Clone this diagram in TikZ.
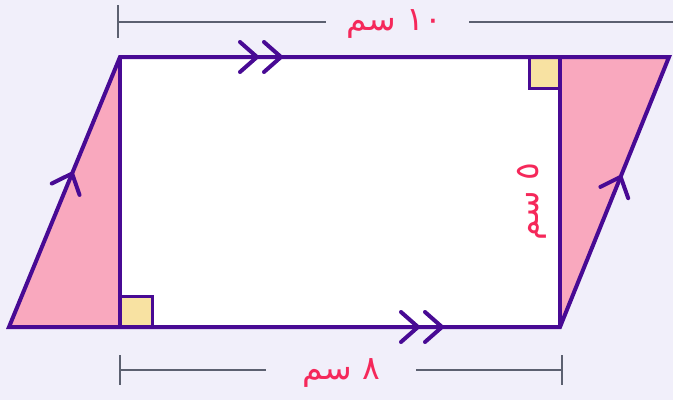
\documentclass[tikz,border=0pt]{standalone}
\usepackage{fontspec}
\newfontfamily\arabicfont[Script=Arabic]{DejaVu Sans}
\TeXXeTstate=1
\usetikzlibrary{decorations.markings}
\definecolor{bgc}{RGB}{241,239,250}
\definecolor{edge}{RGB}{72,10,148}
\definecolor{pinkf}{RGB}{249,168,190}
\definecolor{yell}{RGB}{248,226,162}
\definecolor{dimc}{RGB}{92,96,112}
\definecolor{lab}{RGB}{245,40,90}
\tikzset{
  outline/.style={draw=edge, line width=4pt, line join=miter},
  chevline/.style={draw=edge, line width=4pt, line cap=round},
  dimline/.style={draw=dimc, line width=2pt},
  dimlabel/.style={text=lab, font=\arabicfont\fontsize{33}{36}\selectfont, inner sep=0pt},
  chevat/.style={postaction={decorate, decoration={markings,
     mark=at position #1 with {\draw[chevline] (-17pt,-15pt) -- (0pt,0pt) -- (-17pt,15pt);}}}}
}
\begin{document}
\begin{tikzpicture}[x=1pt,y=-1pt]
\fill[bgc] (0,0) rectangle (673,400);
\useasboundingbox (0,0) rectangle (673,400);
% vertices
\coordinate (A) at (9,327);
\coordinate (B) at (120,57);
\coordinate (C) at (669,57);
\coordinate (D) at (560,327);
\coordinate (E) at (120,327);
\coordinate (F) at (560,57);
% fills
\fill[white] (B) rectangle (D);
\fill[pinkf] (A) -- (B) -- (E) -- cycle;
\fill[pinkf] (F) -- (C) -- (D) -- cycle;
% right-angle squares
\fill[yell] (E) rectangle ++(32,-31);
\fill[yell] (F) rectangle ++(-31,31);
\draw[outline, line width=3pt] (E) ++(0,-31) -- ++(32,0) -- ++(0,31);
\draw[outline, line width=3pt] (F) ++(0,31) -- ++(-31,0) -- ++(0,-31);
% outline
\draw[outline] (A) -- (B) -- (C) -- (D) -- cycle;
\draw[outline] (B) -- (E);
\draw[outline] (F) -- (D);
% parallel marks
\path[chevat=137pt, chevat=161pt] (B) -- (C);
\path[chevat=409pt, chevat=433pt] (A) -- (D);
\path[chevat=166pt] (A) -- (B);
\path[chevat=162pt] (D) -- (C);
% top dimension
\coordinate (t0) at (118,22);
\coordinate (t1) at (673,22);
\draw[dimline] (118,5) -- (118,38);
\node[dimlabel] (top) at (394,24) {\beginR ١٠ سم\endR};
\draw[dimline] (t0) -- (326,22);
\draw[dimline] (469,22) -- (t1);
% bottom dimension
\coordinate (b0) at (120,370);
\coordinate (b1) at (562,370);
\draw[dimline] (120,355) -- (120,385);
\draw[dimline] (562,355) -- (562,385);
\node[dimlabel] (bot) at (341,373) {\beginR ٨ سم\endR};
\draw[dimline] (b0) -- (266,370);
\draw[dimline] (416,370) -- (b1);
% side label
\node[dimlabel, rotate=90] (side) at (532,202) {\beginR ٥ سم\endR};
\end{tikzpicture}
\end{document}
